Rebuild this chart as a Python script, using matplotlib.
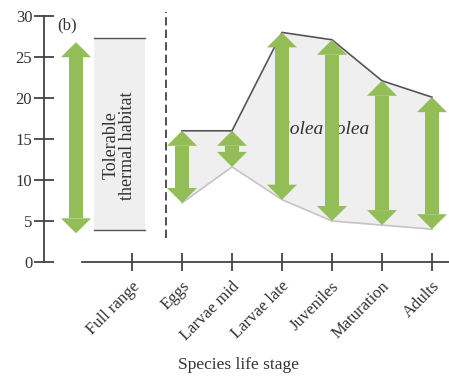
import matplotlib.pyplot as plt
from matplotlib.patches import Polygon, Rectangle
from matplotlib.transforms import ScaledTranslation

plt.rcParams['font.family'] = ['Liberation Serif', 'DejaVu Serif']

stages = ["Full range", "Eggs", "Larvae mid", "Larvae late", "Juveniles", "Maturation", "Adults"]
# thermal range per life stage (Eggs .. Adults)
upper = [16.0, 16.0, 28.0, 27.1, 22.1, 20.1]
lower = [7.2, 11.6, 7.6, 5.0, 4.5, 4.0]
full_range = (3.5, 26.8)
habitat = (3.9, 27.3)

W, H = 449, 378
fig = plt.figure(figsize=(W / 100, H / 100), dpi=100)
ax_l, ax_r, ax_t, ax_b = 44, 449, 16, 262
ax = fig.add_axes([ax_l / W, 1 - ax_b / H, (ax_r - ax_l) / W, (ax_b - ax_t) / H])
xmin, xmax = (ax_l - 132) / 50, (ax_r - 132) / 50
ax.set_xlim(xmin, xmax)
ax.set_ylim(0, 30)

px_x = (xmax - xmin) / (ax_r - ax_l)
px_y = 30 / (ax_b - ax_t)

green = '#93bd57'
dark = '#444444'
txt = '#333333'


def double_arrow(x, lo, hi):
    sw = 14 * px_x / 2
    hw = 30 * px_x / 2
    hl = 15 * px_y
    if hi - hl > lo + hl:
        ax.add_patch(Rectangle((x - sw, lo + hl), 2 * sw, hi - lo - 2 * hl,
                               color=green, lw=0, zorder=4))
    ax.add_patch(Polygon([(x - hw, hi - hl), (x + hw, hi - hl), (x, hi)],
                         color=green, lw=0, zorder=4))
    ax.add_patch(Polygon([(x - hw, lo + hl), (x + hw, lo + hl), (x, lo)],
                         color=green, lw=0, zorder=4))


xs = list(range(1, len(stages)))
ax.fill_between(xs, lower, upper, color='#efefef', lw=0, zorder=1)
ax.plot(xs, upper, color='#555555', lw=1.2, zorder=2)
ax.plot(xs, lower, color='#c4c4c4', lw=1.2, zorder=2)

for x, lo, hi in zip(xs, lower, upper):
    double_arrow(x, lo, hi)

# full range arrow + tolerable habitat box
double_arrow(-1.12, full_range[0], full_range[1])
ax.add_patch(Rectangle((-0.76, habitat[0]), 1.02, habitat[1] - habitat[0],
                       color='#efefef', lw=0, zorder=1))
ax.plot([-0.76, 0.26], [habitat[1]] * 2, color='#555555', lw=1, zorder=2)
ax.plot([-0.76, 0.26], [habitat[0]] * 2, color='#555555', lw=1, zorder=2)
ax.text(-0.25, 14.2, "Tolerable\nthermal habitat", rotation=90, ha='center', va='center',
        fontsize=13, color=txt, linespacing=1.0, zorder=3)

ax.plot([0.68, 0.68], [2.9, 30.5], color='#333333', lw=1.2, ls=(0, (5, 2.5)),
        clip_on=False, zorder=3)

ax.text(-1.75 + 0.26, 28.9, "(b)", fontsize=12, color=txt, va='center')
ax.text(3.86, 16.1, "Solea solea", fontsize=14, style='italic', color=txt,
        ha='center', va='center', zorder=3)

for s in ['top', 'right']:
    ax.spines[s].set_visible(False)
ax.spines['bottom'].set_bounds(-1, xmax)
ax.spines['left'].set_bounds(0, 30)
for s in ['bottom', 'left']:
    ax.spines[s].set_color(dark)
    ax.spines[s].set_linewidth(1.3)

ax.set_yticks(range(0, 31, 5))
ax.set_xticks(range(len(stages)))
ax.set_xticklabels(stages, rotation=45, ha='right', va='center', rotation_mode='anchor')
ax.tick_params(axis='y', direction='inout', length=15, width=1.3, color=dark,
               labelsize=12, labelcolor=txt, pad=1)
ax.tick_params(axis='x', direction='inout', length=13, width=1.3, color=dark,
               labelsize=12, labelcolor=txt, pad=0)
off = ScaledTranslation(5 / 100, -13 / 100, fig.dpi_scale_trans)
for lab in ax.get_xticklabels():
    lab.set_transform(lab.get_transform() + off)

fig.text(239 / W, 1 - 365 / H, "Species life stage", ha='center', va='center',
         fontsize=12.5, color=txt)

fig.savefig('out.png', dpi=100)
